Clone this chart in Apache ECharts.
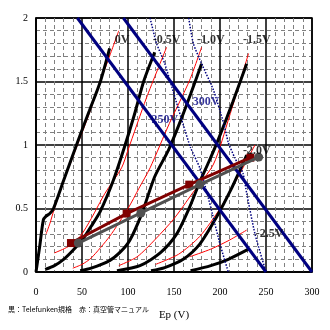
<!DOCTYPE html>
<html><head><meta charset="utf-8">
<script src="https://cdn.jsdelivr.net/npm/echarts@6/dist/echarts.min.js"></script>
<style>html,body{margin:0;padding:0;background:#fff}#c{width:330px;height:330px}</style>
</head><body><div id="c"></div>
<script>
// Plate characteristic curves (Ep [V], Ip [mA])
const black0   = [[0,0],[4,0.2],[8,0.41],[11,0.44],[15,0.46],[19,0.5],[30,0.72],[46,1.04],[58,1.27],[70,1.5],[80,1.76]];
const blackM05 = [[10,0.02],[20,0.05],[30,0.1],[40,0.17],[51,0.26],[60,0.36],[70,0.48],[84,0.72],[96,0.98],[107,1.24],[117,1.5],[129,1.73]];
const blackM10 = [[48,0.01],[60,0.03],[80,0.09],[92,0.16],[102,0.25],[115,0.46],[129,0.75],[144,0.96],[156,1.17],[168,1.4],[180,1.64]];
const blackM15 = [[88,0.01],[113,0.05],[135,0.15],[153,0.3],[167,0.51],[178,0.71],[188,0.87],[198,1.04],[214,1.34],[229,1.64]];
const blackM20 = [[125,0.01],[140,0.035],[160,0.1],[178,0.22],[196,0.43],[212,0.65],[229,0.92]];
const blackM25 = [[168,0.01],[190,0.05],[209,0.1],[231,0.18]];

const red0   = [[11,0.3],[15,0.38],[20,0.5],[32,0.75],[45,1.0],[58,1.25],[70,1.5],[80,1.7],[90,1.9]];
const redM05 = [[20,0.15],[35,0.2],[48,0.28],[60,0.42],[75,0.62],[93,0.82],[100,0.96],[120,1.37],[142,1.77]];
const redM10 = [[40,0.03],[50,0.06],[60,0.11],[80,0.28],[100,0.5],[112,0.66],[124,0.82],[145,1.17],[167,1.51],[180,1.77]];
const redM15 = [[90,0.05],[110,0.12],[130,0.26],[150,0.42],[170,0.62],[193,0.85],[210,1.22],[231,1.72]];
const redM20 = [[130,0.06],[155,0.14],[178,0.28],[200,0.5],[222,0.78],[238,1.0]];
const redM25 = [[167,0.12],[190,0.18],[210,0.25],[229,0.33]];

const load250 = [[45,2],[250,0]];
const load300 = [[95,2],[300,0]];
const dotA = [[124,2.0],[131,1.8],[140,1.64],[150,1.4],[160,1.16],[168,0.98],[178,0.82],[186,0.62],[192,0.45],[200,0.22],[209,0]];
const dotB = [[166,2.0],[171,1.8],[180,1.64],[193,1.43],[204,1.17],[209,1.02],[216,0.9],[225,0.775],[229,0.62],[238,0.3],[250,0]];

const opRed  = [[38,0.228],[98.5,0.46],[166.6,0.688],[233,0.9]];
const opGray = [[46,0.228],[114,0.465],[178,0.688],[242,0.905]];

const curveLabels = [['0V',93.5,1.83],['-0.5V',142,1.83],['-1.0V',190,1.83],['-1.5V',240,1.83],['-2.0V',240,0.95],['-2.5V',254,0.3]];
const loadLabels = [['250V',140,1.2],['300V',185,1.34]];

const xTicks = {min:0,max:300,interval:50};
const yTicks = {min:0,max:2,interval:0.5};

const SERIF = '"Liberation Serif","DejaVu Serif",serif';
const series = [];
function line(data, color, width, z, type, smooth){
  series.push({type:'line',data:data,symbol:'none',smooth:smooth===undefined?0.25:smooth,z:z,silent:true,
    lineStyle:{color:color,width:width,type:type||'solid'}});
}
[red0,redM05,redM10,redM15,redM20,redM25].forEach(d=>line(d,'#ff0000',1,2));
[black0,blackM05,blackM10,blackM15,blackM20,blackM25].forEach(d=>line(d,'#000000',3,3));
line(dotA,'#000080',1.5,4,'dotted',0.2);
line(dotB,'#000080',1.5,4,'dotted',0.2);
line(load250,'#000080',3,5,'solid',false);
line(load300,'#000080',3,5,'solid',false);
series.push({type:'line',data:opRed,z:6,symbol:'rect',symbolSize:8,
  lineStyle:{color:'#800000',width:3},itemStyle:{color:'#800000'}});
series.push({type:'line',data:opGray,z:7,symbol:'circle',symbolSize:9,
  lineStyle:{color:'#505050',width:3},itemStyle:{color:'#505050'}});
series.push({type:'scatter',symbolSize:0,z:10,silent:true,
  data:curveLabels.map(l=>({name:l[0],value:[l[1],l[2]]})),
  label:{show:true,position:'inside',formatter:p=>p.name,color:'#000',fontFamily:SERIF,fontWeight:'bold',fontSize:12}});
series.push({type:'scatter',symbolSize:0,z:10,silent:true,
  data:loadLabels.map(l=>({name:l[0],value:[l[1],l[2]]})),
  label:{show:true,position:'inside',formatter:p=>p.name,color:'#000080',fontFamily:SERIF,fontWeight:'bold',fontSize:12}});

const chart = echarts.init(document.getElementById('c'),null,{renderer:'canvas'});
const minorLine = {show:true,lineStyle:{color:'#808080',width:1,type:[4,3]}};
chart.setOption({
  animation:false,
  grid:{left:36,top:18,width:276,height:254,show:true,borderColor:'#000',borderWidth:1.5,backgroundColor:'transparent'},
  xAxis:{type:'value',min:xTicks.min,max:xTicks.max,interval:xTicks.interval,
    name:'Ep (V)',nameLocation:'middle',nameGap:38,nameTextStyle:{fontFamily:SERIF,fontSize:11,color:'#000'},
    axisLine:{show:true,lineStyle:{color:'#000',width:1.5}},axisTick:{show:false},
    axisLabel:{fontFamily:SERIF,fontSize:10,color:'#000',margin:15},
    splitLine:{show:true,lineStyle:{color:'#000',width:1.5}},
    minorTick:{show:false,splitNumber:5},minorSplitLine:minorLine},
  yAxis:{type:'value',min:yTicks.min,max:yTicks.max,interval:yTicks.interval,
    axisLine:{show:true,lineStyle:{color:'#000',width:1.5}},axisTick:{show:false},
    axisLabel:{fontFamily:SERIF,fontSize:10,color:'#000',margin:8},
    splitLine:{show:true,lineStyle:{color:'#000',width:1.5}},
    minorTick:{show:false,splitNumber:5},minorSplitLine:minorLine},
  graphic:[{type:'text',left:8,top:306,style:{text:'黒：Telefunken規格　赤：真空管マニュアル',fontSize:7,fill:'#000',fontFamily:'"Noto Sans CJK JP",sans-serif'}}],
  series:series
});
</script></body></html>
